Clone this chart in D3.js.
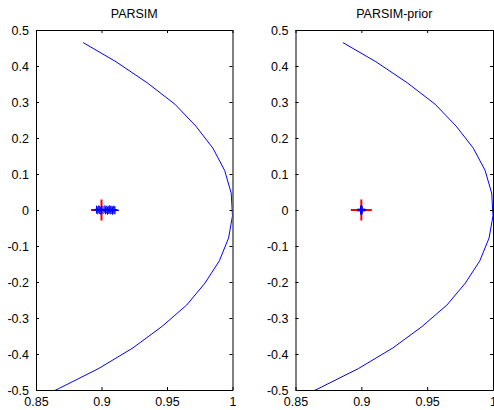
<!DOCTYPE html>
<html>
<head>
<meta charset="utf-8">
<script src="https://cdn.jsdelivr.net/npm/d3@7"></script>
<style>
  body { margin: 0; background: #fff; }
  svg text { font-family: "Liberation Sans", Arial, Helvetica, sans-serif; }
</style>
</head>
<body>
<svg id="chart" width="494" height="410"></svg>
<script>
  // unit-circle arc (vertex by vertex)
  var circleX = [0.886, 0.911, 0.935, 0.956, 0.972, 0.985, 0.994, 0.999, 1.000, 0.997, 0.990, 0.979, 0.965, 0.946, 0.924, 0.898, 0.868, 0.836],
      circleY = [0.465, 0.412, 0.353, 0.294, 0.233, 0.172, 0.110, 0.047, -0.016, -0.078, -0.141, -0.203, -0.264, -0.324, -0.383, -0.440, -0.495, -0.549];

  // estimated poles
  var parsimX = [0.8962, 0.8971, 0.8979, 0.8986, 0.8994, 0.9001, 0.9012, 0.9025, 0.9031, 0.9040,
                 0.9046, 0.9052, 0.9060, 0.9066, 0.9071, 0.9079, 0.9084, 0.9090, 0.9097, 0.9103],
      parsimY = [0.001, -0.001, 0.002, 0.000, -0.002, 0.001, 0.000, 0.002, -0.001, 0.001,
                 -0.002, 0.000, 0.002, -0.001, 0.001, 0.000, -0.002, 0.001, 0.000, -0.001];

  var priorX = [0.8996, 0.8998, 0.9000, 0.9001, 0.9003, 0.9004, 0.8999, 0.9002, 0.9005, 0.8997],
      priorY = [0.001, -0.001, 0.000, 0.002, -0.002, 0.001, 0.002, -0.001, 0.000, -0.002];

  // true pole
  var trueX = [0.9], trueY = [0];

  var titles = ['PARSIM', 'PARSIM-prior'],
      xTicks = [0.85, 0.9, 0.95, 1],
      yTicks = [0.5, 0.4, 0.3, 0.2, 0.1, 0, -0.1, -0.2, -0.3, -0.4, -0.5];

  var svg = d3.select('#chart'),
      panels = [
        { left: 36, right: 232.5, xs: parsimX, ys: parsimY },
        { left: 295.5, right: 493, xs: priorX, ys: priorY }
      ],
      plotTop = 30, plotBottom = 390, TICK = 3;

  var fmt = function(d) { return String(d); };

  panels.forEach(function(p, i) {
    var x = d3.scaleLinear().domain([0.85, 1]).range([p.left, p.right]),
        y = d3.scaleLinear().domain([-0.5, 0.5]).range([plotBottom, plotTop]),
        g = svg.append('g'),
        clipId = 'clip' + i;

    g.append('clipPath').attr('id', clipId)
      .append('rect')
        .attr('x', p.left).attr('y', plotTop)
        .attr('width', p.right - p.left).attr('height', plotBottom - plotTop);

    var plot = g.append('g').attr('clip-path', 'url(#' + clipId + ')');

    var line = d3.line()
      .x(function(d) { return x(d[0]); })
      .y(function(d) { return y(d[1]); });

    plot.append('path')
      .datum(d3.zip(circleX, circleY))
      .attr('d', line)
      .attr('fill', 'none')
      .attr('stroke', '#0000ff')
      .attr('stroke-width', 1);

    // true pole, thick red plus
    plot.selectAll('.truth')
      .data(d3.zip(trueX, trueY))
      .enter().append('path')
        .attr('class', 'truth')
        .attr('d', function(d) {
          var cx = x(d[0]), cy = y(d[1]);
          return 'M' + (cx - 10.5) + ',' + cy + 'H' + (cx + 10.5) +
                 'M' + cx + ',' + (cy - 10.5) + 'V' + (cy + 10.5);
        })
        .attr('stroke', '#ff0000')
        .attr('stroke-width', 2)
        .attr('fill', 'none');

    // estimated poles, small blue plus markers
    plot.selectAll('.est')
      .data(d3.zip(p.xs, p.ys))
      .enter().append('path')
        .attr('class', 'est')
        .attr('d', function(d) {
          var cx = x(d[0]), cy = y(d[1]);
          return 'M' + (cx - 4) + ',' + cy + 'H' + (cx + 4) +
                 'M' + cx + ',' + (cy - 4) + 'V' + (cy + 4);
        })
        .attr('stroke', '#0000ff')
        .attr('stroke-width', 1)
        .attr('fill', 'none');

    // axes, MATLAB style box with inward ticks
    var xAxisB = d3.axisBottom(x).tickValues(xTicks).tickFormat(fmt).tickSizeInner(-TICK).tickSizeOuter(0).tickPadding(7),
        xAxisT = d3.axisTop(x).tickValues(xTicks).tickFormat('').tickSizeInner(-TICK).tickSizeOuter(0),
        yAxisL = d3.axisLeft(y).tickValues(yTicks).tickFormat(fmt).tickSizeInner(-TICK).tickSizeOuter(0).tickPadding(7),
        yAxisR = d3.axisRight(y).tickValues(yTicks).tickFormat('').tickSizeInner(-TICK).tickSizeOuter(0);

    [
      g.append('g').attr('transform', 'translate(0,' + plotBottom + ')').call(xAxisB),
      g.append('g').attr('transform', 'translate(0,' + plotTop + ')').call(xAxisT),
      g.append('g').attr('transform', 'translate(' + p.left + ',0)').call(yAxisL),
      g.append('g').attr('transform', 'translate(' + p.right + ',0)').call(yAxisR)
    ].forEach(function(a) {
      a.selectAll('path, line').attr('stroke', '#000').attr('stroke-width', 1);
      a.selectAll('text').attr('fill', '#000').style('font-size', '12.5px');
    });

    g.append('text')
      .attr('x', (p.left + p.right) / 2)
      .attr('y', 18)
      .attr('text-anchor', 'middle')
      .style('font-size', '12.5px')
      .text(titles[i]);
  });
</script>
</body>
</html>
